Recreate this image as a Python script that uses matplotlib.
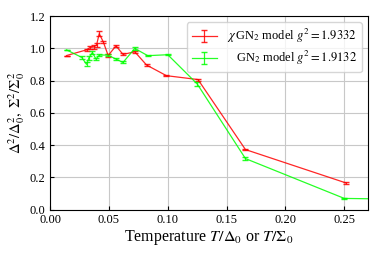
import matplotlib
matplotlib.use('Agg')
import matplotlib.pyplot as plt

# --- Data ---
t_chi = [0.0141, 0.031, 0.034, 0.037, 0.0395, 0.0418, 0.0452, 0.0494,
         0.056, 0.062, 0.072, 0.082, 0.0989, 0.1257, 0.166, 0.2514]
v_chi = [0.955, 0.99, 1.005, 1.008, 1.02, 1.09, 1.04, 0.955,
         1.015, 0.962, 0.978, 0.896, 0.83, 0.806, 0.372, 0.165]
e_chi = [0.0, 0.008, 0.01, 0.01, 0.01, 0.015, 0.008, 0.008,
         0.008, 0.006, 0.006, 0.004, 0.004, 0.006, 0.004, 0.004]

t_gn = [0.014, 0.027, 0.031, 0.033, 0.036, 0.039, 0.042, 0.049,
        0.056, 0.062, 0.072, 0.083, 0.10, 0.125, 0.166, 0.25, 0.28]
v_gn = [0.99, 0.943, 0.90, 0.94, 0.974, 0.933, 0.958, 0.958,
        0.933, 0.912, 0.999, 0.954, 0.96, 0.779, 0.316, 0.069, 0.066]
e_gn = [0.0, 0.01, 0.012, 0.01, 0.01, 0.008, 0.006, 0.006,
        0.006, 0.006, 0.008, 0.004, 0.004, 0.01, 0.01, 0.004, 0.0]

label_chi = r'$\chi\,$GN$_2$ model $g^2=1.9332$'
label_gn = r'GN$_2$ model $g^2=1.9132$'

plt.rcParams['font.family'] = ['Liberation Serif', 'DejaVu Serif']
plt.rcParams['mathtext.fontset'] = 'stix'

fig = plt.figure(figsize=(3.82, 2.54), dpi=100)
ax = fig.add_axes([0.131, 0.175, 0.832, 0.762])

ax.errorbar(t_chi, v_chi, yerr=e_chi, color=(1, 0, 0), lw=0.9,
            capsize=2.5, elinewidth=0.9, alpha=0.85, label=label_chi)
ax.errorbar(t_gn, v_gn, yerr=e_gn, color=(0, 1, 0), lw=0.9,
            capsize=2.5, elinewidth=0.9, alpha=0.85, label=label_gn)

ax.set_xlim(0, 0.27)
ax.set_ylim(0, 1.2)
ax.set_xticks([0.0, 0.05, 0.10, 0.15, 0.20, 0.25])
ax.set_xticklabels(['0.00', '0.05', '0.10', '0.15', '0.20', '0.25'])
ax.set_yticks([0.0, 0.2, 0.4, 0.6, 0.8, 1.0, 1.2])
ax.tick_params(direction='in', labelsize=9, length=3)
ax.grid(True, color='#c8c8c8', lw=0.8)

ax.set_xlabel(r'Temperature $T/\Delta_0$ or $T/\Sigma_0$', fontsize=11.5, labelpad=1)
ax.set_ylabel(r'$\Delta^2/\Delta_0^2,\ \Sigma^2/\Sigma_0^2$', fontsize=10.5, labelpad=2)

leg = ax.legend(loc='upper right', fontsize=9, handlelength=2.0,
                borderpad=0.4, labelspacing=0.3)

# right-align the legend labels while keeping the handles on the left
fig.canvas.draw()
renderer = fig.canvas.get_renderer()
texts = leg.get_texts()
widths = [t.get_window_extent(renderer).width for t in texts]
rows = leg._legend_handle_box.get_children()[0].get_children()
pt = fig.dpi / 72.0
for row, w in zip(rows, widths):
    row.sep += (max(widths) - w) / pt

fig.savefig('out.png', dpi=100)
